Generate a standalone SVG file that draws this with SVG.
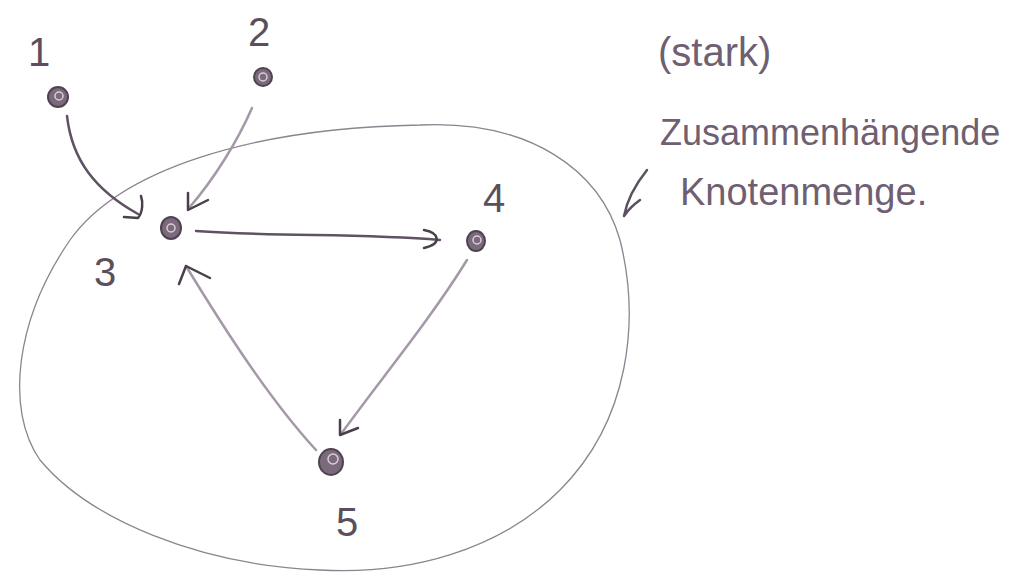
<svg xmlns="http://www.w3.org/2000/svg" width="1032" height="577" viewBox="0 0 1032 577">
<defs>
<style>
.lbl{font-family:"Liberation Sans",Arial,sans-serif;fill:#5b4f5e;font-size:40px}
.note{font-family:"Liberation Sans",Arial,sans-serif;fill:#6e5f72;font-size:40px}
.node{fill:#7a6a7c;stroke:#4e4350;stroke-width:2}
.inner{fill:none;stroke:#d8cfd9;stroke-width:1.5}
.edge{fill:none;stroke:#5f5262;stroke-width:2.5;stroke-linecap:round}
.edgeL{fill:none;stroke:#a598a8;stroke-width:2.5;stroke-linecap:round}
.head{fill:none;stroke:#4a404c;stroke-width:2.5;stroke-linecap:round;stroke-linejoin:round}
.set{fill:none;stroke:#8c8490;stroke-width:1.3}
</style>
</defs>
<rect width="1032" height="577" fill="#ffffff"/>
<g id="set">
<path class="set" d="M420,125 C530,120 600,170 620,240 C640,320 630,420 560,490 C500,550 410,575 320,570 C200,565 90,520 40,460 C5,410 15,320 70,240 C120,170 250,128 420,125 Z"/>
</g>
<g id="connectors">
<path class="edge" d="M67,116 C72,160 95,190 138,214"/>
<path class="head" d="M124,217 L138,218 C143,212 143,202 141,196"/>
<path class="edgeL" d="M252,108 C238,140 215,178 189,208"/>
<path class="head" d="M188,193 L188,210 L208,200"/>
<path class="edge" d="M196,231 C280,237 360,233 440,240"/>
<path class="head" d="M424,230 C440,233 442,244 424,248"/>
<path class="edgeL" d="M467,260 C430,320 380,380 341,434"/>
<path class="head" d="M340,420 L340,435 L358,428"/>
<path class="edgeL" d="M316,450 C270,400 225,330 186,266"/>
<path class="head" d="M179,284 L186,266 L210,278"/>
<path class="head" d="M647,170 C635,185 627,200 624,216 C628,210 633,205 640,200" style="stroke:#5a5060"/>
</g>
<g id="n1"><ellipse class="node" cx="58" cy="97" rx="10" ry="10"/><circle class="inner" cx="59" cy="96" r="4"/><text class="lbl" x="28" y="66">1</text></g>
<g id="n2"><ellipse class="node" cx="263" cy="77" rx="9" ry="9"/><circle class="inner" cx="263" cy="77" r="4"/><text class="lbl" x="248" y="46">2</text></g>
<g id="n3"><ellipse class="node" cx="171" cy="228" rx="10" ry="11"/><circle class="inner" cx="171" cy="228" r="4"/><text class="lbl" x="94" y="286">3</text></g>
<g id="n4"><ellipse class="node" cx="476" cy="241" rx="9" ry="10"/><circle class="inner" cx="477" cy="240" r="4"/><text class="lbl" x="483" y="212">4</text></g>
<g id="n5"><ellipse class="node" cx="331" cy="462" rx="12" ry="13"/><circle class="inner" cx="333" cy="459" r="5"/><text class="lbl" x="336" y="536">5</text></g>
<g id="note">
<text class="note" x="658" y="66">(stark)</text>
<text class="note" x="660" y="145" style="font-size:36px">Zusammenhängende</text>
<text class="note" x="680" y="205" style="font-size:38px">Knotenmenge.</text>
</g>
</svg>
